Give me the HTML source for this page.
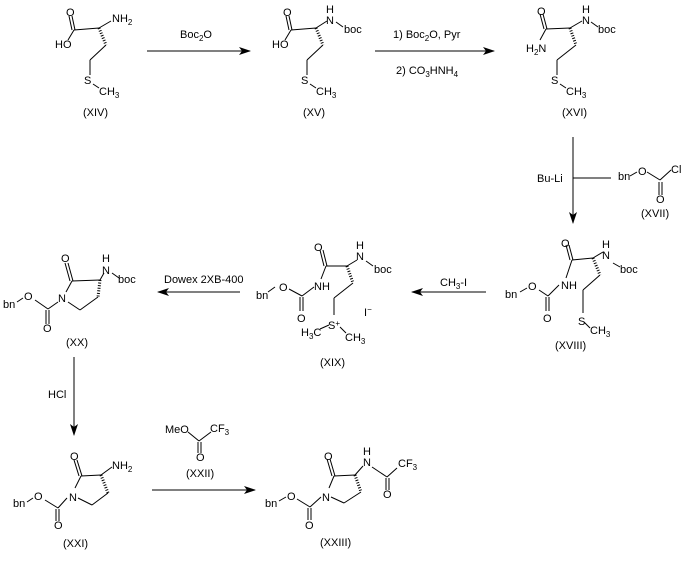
<!DOCTYPE html>
<html><head><style>
html,body{margin:0;padding:0;background:#fff;}
svg{display:block;}
text{font-family:"Liberation Sans",Arial,sans-serif;font-size:11px;fill:#000;}
.s{font-size:8px;}
</style></head><body>
<svg width="691" height="567" viewBox="0 0 691 567" xmlns="http://www.w3.org/2000/svg">
<defs>
<marker id="ah" markerWidth="12" markerHeight="8" refX="11" refY="4" orient="auto" markerUnits="userSpaceOnUse">
<path d="M0,0 L12,4 L0,8 L3,4 Z" fill="#000"/>
</marker>
</defs>
<g stroke="#000" stroke-width="1" fill="none">
<!-- XIV -->
<line x1="69" y1="16" x2="72" y2="30"/><line x1="72" y1="16" x2="75" y2="30"/>
<line x1="74" y1="30" x2="68" y2="40"/>
<line x1="74" y1="30" x2="99" y2="28"/>
<line x1="99" y1="28" x2="111" y2="21"/>
<line x1="99" y1="28" x2="106" y2="45" stroke-width="3" stroke-dasharray="1,1.6"/>
<line x1="106" y1="45" x2="90" y2="60"/>
<line x1="90" y1="60" x2="90" y2="75"/>
<line x1="93" y1="84" x2="99" y2="88"/>
<!-- arrow1 -->
<line x1="147" y1="51" x2="250" y2="51" marker-end="url(#ah)"/>
<!-- XV -->
<line x1="286" y1="16" x2="289" y2="30"/><line x1="289" y1="16" x2="292" y2="30"/>
<line x1="291" y1="30" x2="285" y2="40"/>
<line x1="291" y1="30" x2="316" y2="28"/>
<line x1="316" y1="28" x2="327" y2="21"/>
<line x1="336" y1="22" x2="343" y2="27"/>
<line x1="316" y1="28" x2="323" y2="45" stroke-width="3" stroke-dasharray="1,1.6"/>
<line x1="323" y1="45" x2="307" y2="60"/>
<line x1="307" y1="60" x2="307" y2="75"/>
<line x1="310" y1="84" x2="316" y2="88"/>
<!-- arrow2 -->
<line x1="375" y1="51" x2="494" y2="51" marker-end="url(#ah)"/>
<!-- XVI -->
<line x1="540" y1="14" x2="544" y2="29"/><line x1="543" y1="14" x2="547" y2="29"/>
<line x1="546" y1="29" x2="540" y2="40"/>
<line x1="546" y1="29" x2="570" y2="28"/>
<line x1="570" y1="28" x2="582" y2="21"/>
<line x1="591" y1="22" x2="598" y2="27"/>
<line x1="570" y1="28" x2="576" y2="45" stroke-width="3" stroke-dasharray="1,1.6"/>
<line x1="576" y1="45" x2="557" y2="60"/>
<line x1="557" y1="60" x2="557" y2="75"/>
<line x1="560" y1="84" x2="566" y2="88"/>
<!-- vertical arrow -->
<line x1="573" y1="137" x2="573" y2="223" marker-end="url(#ah)"/>
<line x1="573" y1="178" x2="611" y2="178"/>
<!-- XVII -->
<line x1="630" y1="176" x2="637" y2="172"/>
<line x1="647" y1="172" x2="660" y2="180"/>
<line x1="660" y1="180" x2="671" y2="170"/>
<line x1="659" y1="182" x2="659" y2="195"/><line x1="662" y1="182" x2="662" y2="195"/>
<!-- XVIII -->
<line x1="566" y1="245" x2="570" y2="260"/><line x1="569" y1="245" x2="573" y2="260"/>
<line x1="572" y1="260" x2="593" y2="258"/>
<line x1="572" y1="260" x2="566" y2="278"/>
<line x1="593" y1="258" x2="603" y2="252"/>
<line x1="613" y1="263" x2="620" y2="267"/>
<line x1="593" y1="258" x2="600" y2="275" stroke-width="3" stroke-dasharray="1,1.6"/>
<line x1="600" y1="275" x2="583" y2="290"/>
<line x1="583" y1="290" x2="583" y2="313"/>
<line x1="584" y1="322" x2="590" y2="328"/>
<line x1="559" y1="285" x2="548" y2="296"/>
<line x1="548" y1="296" x2="539" y2="290"/>
<line x1="527" y1="288" x2="520" y2="292"/>
<line x1="546" y1="297" x2="546" y2="311"/><line x1="549" y1="297" x2="549" y2="311"/>
<!-- CH3-I arrow -->
<line x1="486" y1="292" x2="412" y2="292" marker-end="url(#ah)"/>
<!-- XIX -->
<line x1="320" y1="250" x2="324" y2="266"/><line x1="323" y1="250" x2="327" y2="266"/>
<line x1="326" y1="266" x2="347" y2="266"/>
<line x1="326" y1="266" x2="321" y2="279"/>
<line x1="347" y1="266" x2="357" y2="260"/>
<line x1="366" y1="261" x2="373" y2="266"/>
<line x1="347" y1="266" x2="353" y2="283" stroke-width="3" stroke-dasharray="1,1.6"/>
<line x1="353" y1="283" x2="334" y2="298"/>
<line x1="334" y1="298" x2="334" y2="315"/>
<line x1="329" y1="325" x2="320" y2="329"/>
<line x1="340" y1="327" x2="346" y2="333"/>
<line x1="314" y1="287" x2="302" y2="296"/>
<line x1="302" y1="296" x2="289" y2="289"/>
<line x1="275" y1="287" x2="268" y2="292"/>
<line x1="300" y1="297" x2="300" y2="311"/><line x1="303" y1="297" x2="303" y2="311"/>
<!-- Dowex arrow -->
<line x1="240" y1="292" x2="158" y2="292" marker-end="url(#ah)"/>
<!-- XX -->
<line x1="65" y1="263" x2="70" y2="281"/><line x1="68" y1="263" x2="73" y2="281"/>
<line x1="72" y1="281" x2="100" y2="280"/>
<line x1="72" y1="281" x2="66" y2="292"/>
<line x1="100" y1="280" x2="104" y2="273"/>
<line x1="112" y1="273" x2="119" y2="278"/>
<line x1="100" y1="280" x2="98" y2="297" stroke-width="3" stroke-dasharray="1,1.6"/>
<line x1="98" y1="297" x2="80" y2="310"/>
<line x1="80" y1="310" x2="68" y2="302"/>
<line x1="58" y1="302" x2="48" y2="309"/>
<line x1="48" y1="309" x2="35" y2="300"/>
<line x1="23" y1="298" x2="17" y2="302"/>
<line x1="46" y1="310" x2="46" y2="324"/><line x1="49" y1="310" x2="49" y2="324"/>
<!-- HCl arrow -->
<line x1="74" y1="357" x2="74" y2="435" marker-end="url(#ah)"/>
<!-- XXI -->
<line x1="74" y1="460" x2="79" y2="476"/><line x1="77" y1="460" x2="82" y2="476"/>
<line x1="81" y1="476" x2="101" y2="475"/>
<line x1="81" y1="476" x2="75" y2="488"/>
<line x1="101" y1="475" x2="112" y2="467"/>
<line x1="101" y1="475" x2="108" y2="493" stroke-width="3" stroke-dasharray="1,1.6"/>
<line x1="108" y1="493" x2="92" y2="505"/>
<line x1="92" y1="505" x2="78" y2="498"/>
<line x1="67" y1="498" x2="58" y2="508"/>
<line x1="58" y1="508" x2="45" y2="500"/>
<line x1="33" y1="498" x2="27" y2="502"/>
<line x1="56" y1="509" x2="56" y2="521"/><line x1="59" y1="509" x2="59" y2="521"/>
<!-- XXII -->
<line x1="188" y1="432" x2="199" y2="441"/>
<line x1="199" y1="441" x2="211" y2="432"/>
<line x1="198" y1="442" x2="198" y2="453"/><line x1="201" y1="442" x2="201" y2="453"/>
<!-- arrow XXI->XXIII -->
<line x1="152" y1="490" x2="255" y2="490" marker-end="url(#ah)"/>
<!-- XXIII -->
<line x1="327" y1="459" x2="332" y2="476"/><line x1="330" y1="459" x2="335" y2="476"/>
<line x1="334" y1="476" x2="355" y2="475"/>
<line x1="334" y1="476" x2="329" y2="488"/>
<line x1="355" y1="475" x2="363" y2="466"/>
<line x1="372" y1="467" x2="387" y2="477"/>
<line x1="387" y1="477" x2="397" y2="468"/>
<line x1="386" y1="478" x2="386" y2="490"/><line x1="389" y1="478" x2="389" y2="490"/>
<line x1="355" y1="475" x2="361" y2="492" stroke-width="3" stroke-dasharray="1,1.6"/>
<line x1="361" y1="492" x2="344" y2="503"/>
<line x1="344" y1="503" x2="331" y2="497"/>
<line x1="321" y1="497" x2="310" y2="507"/>
<line x1="310" y1="507" x2="297" y2="499"/>
<line x1="286" y1="497" x2="279" y2="501"/>
<line x1="308" y1="508" x2="308" y2="520"/><line x1="311" y1="508" x2="311" y2="520"/>
</g>
<!-- texts -->
<text x="66" y="16">O</text>
<text x="55" y="48">HO</text>
<text x="112" y="22">NH<tspan class="s" dy="3">2</tspan></text>
<text x="84" y="84">S</text>
<text x="99" y="95">CH<tspan class="s" dy="3">3</tspan></text>
<text x="83" y="116">(XIV)</text>
<text x="180" y="38">Boc<tspan class="s" dy="3">2</tspan><tspan dy="-3">O</tspan></text>

<text x="283" y="16">O</text>
<text x="272" y="48">HO</text>
<text x="326" y="13">H</text>
<text x="326" y="24">N</text>
<text x="344" y="33">boc</text>
<text x="301" y="84">S</text>
<text x="316" y="95">CH<tspan class="s" dy="3">3</tspan></text>
<text x="303" y="116">(XV)</text>
<text x="393" y="38">1) Boc<tspan class="s" dy="3">2</tspan><tspan dy="-3">O, Pyr</tspan></text>
<text x="396" y="74">2) CO<tspan class="s" dy="3">3</tspan><tspan dy="-3">HNH</tspan><tspan class="s" dy="3">4</tspan></text>

<text x="537" y="15">O</text>
<text x="526" y="52">H<tspan class="s" dy="3">2</tspan><tspan dy="-3">N</tspan></text>
<text x="582" y="13">H</text>
<text x="582" y="24">N</text>
<text x="598" y="33">boc</text>
<text x="551" y="84">S</text>
<text x="566" y="95">CH<tspan class="s" dy="3">3</tspan></text>
<text x="562" y="116">(XVI)</text>

<text x="537" y="182">Bu-Li</text>
<text x="618" y="180">bn</text>
<text x="638" y="175">O</text>
<text x="671" y="173">Cl</text>
<text x="656" y="203">O</text>
<text x="641" y="217">(XVII)</text>

<text x="561" y="247">O</text>
<text x="602" y="248">H</text>
<text x="602" y="259">N</text>
<text x="620" y="273">boc</text>
<text x="561" y="289">NH</text>
<text x="528" y="290">O</text>
<text x="505" y="298">bn</text>
<text x="543" y="322">O</text>
<text x="578" y="325">S</text>
<text x="590" y="334">CH<tspan class="s" dy="3">3</tspan></text>
<text x="555" y="349">(XVIII)</text>
<text x="440" y="286">CH<tspan class="s" dy="3">3</tspan><tspan dy="-3">-I</tspan></text>

<text x="314" y="251">O</text>
<text x="356" y="249">H</text>
<text x="356" y="260">N</text>
<text x="374" y="273">boc</text>
<text x="314" y="290">NH</text>
<text x="279" y="291">O</text>
<text x="256" y="299">bn</text>
<text x="297" y="322">O</text>
<text x="328" y="329">S<tspan class="s" dy="-3">+</tspan></text>
<text x="301" y="336">H<tspan class="s" dy="3">3</tspan><tspan dy="-3">C</tspan></text>
<text x="345" y="341">CH<tspan class="s" dy="3">3</tspan></text>
<text x="364" y="316">I<tspan class="s" dy="-4">−</tspan></text>
<text x="320" y="366">(XIX)</text>
<text x="164" y="283">Dowex 2XB-400</text>

<text x="61" y="262">O</text>
<text x="102" y="262">H</text>
<text x="102" y="274">N</text>
<text x="118" y="283">boc</text>
<text x="58" y="302">N</text>
<text x="24" y="300">O</text>
<text x="3" y="308">bn</text>
<text x="43" y="332">O</text>
<text x="66" y="346">(XX)</text>
<text x="48" y="398">HCl</text>

<text x="70" y="460">O</text>
<text x="112" y="469">NH<tspan class="s" dy="3">2</tspan></text>
<text x="69" y="501">N</text>
<text x="34" y="500">O</text>
<text x="13" y="507">bn</text>
<text x="54" y="529">O</text>
<text x="63" y="547">(XXI)</text>

<text x="165" y="433">MeO</text>
<text x="210" y="432">CF<tspan class="s" dy="3">3</tspan></text>
<text x="196" y="461">O</text>
<text x="186" y="477">(XXII)</text>

<text x="324" y="460">O</text>
<text x="363" y="455">H</text>
<text x="363" y="466">N</text>
<text x="398" y="467">CF<tspan class="s" dy="3">3</tspan></text>
<text x="383" y="498">O</text>
<text x="322" y="501">N</text>
<text x="287" y="500">O</text>
<text x="265" y="507">bn</text>
<text x="305" y="529">O</text>
<text x="320" y="546">(XXIII)</text>
</svg>
</body></html>
